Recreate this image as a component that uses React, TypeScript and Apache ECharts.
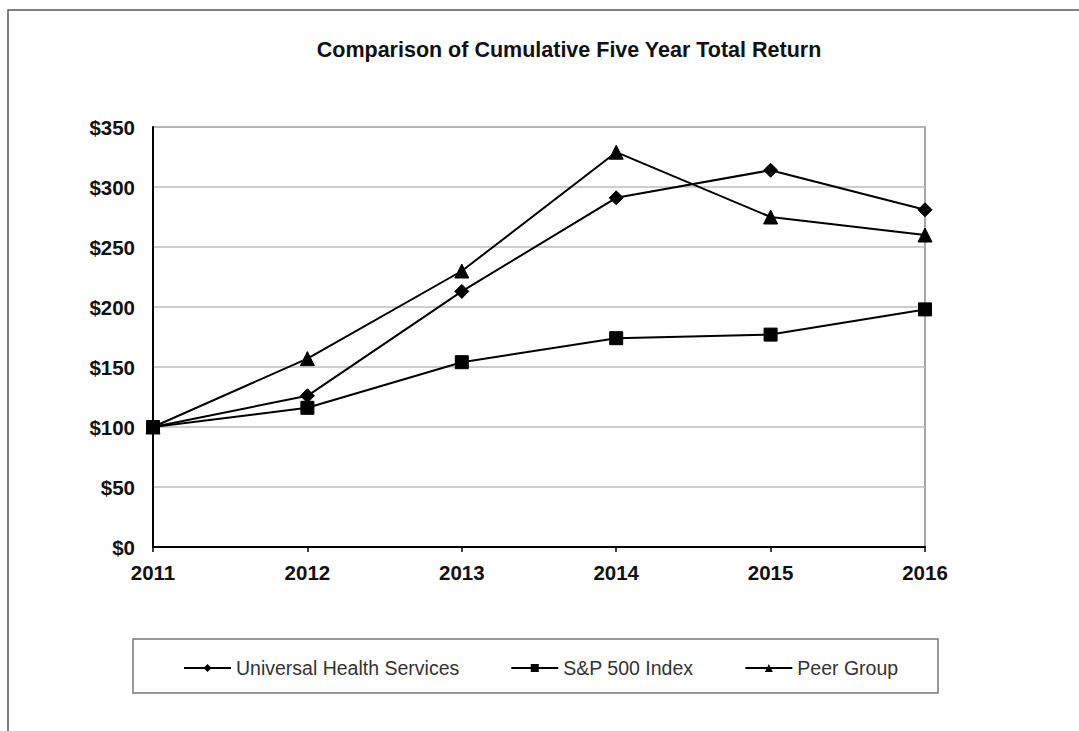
import React, { useEffect, useRef } from "react";
import * as echarts from "echarts";

const years = ["2011", "2012", "2013", "2014", "2015", "2016"];
const uhs = [100, 126, 213, 291, 314, 281];
const sp500 = [100, 116, 154, 174, 177, 198];
const peer = [100, 157, 230, 329, 275, 260];
const seriesNames = ["Universal Health Services", "S&P 500 Index", "Peer Group"];
const title = "Comparison of Cumulative Five Year Total Return";

const FONT = "'Liberation Sans', Arial, Helvetica, sans-serif";

export default function App() {
  const ref = useRef<HTMLDivElement>(null);
  useEffect(() => {
    if (!ref.current) return;
    const chart = echarts.init(ref.current, null, { renderer: "svg" });
    const mk = (name: string, data: number[], symbol: string, size: number) => ({
      name,
      type: "line",
      data,
      symbol,
      symbolSize: size,
      showSymbol: true,
      lineStyle: { color: "#000", width: 2 },
      itemStyle: { color: "#000", borderColor: "#000" },
      emphasis: { disabled: true },
    });
    chart.setOption({
      animation: false,
      backgroundColor: "#fff",
      title: {
        text: title,
        left: 564,
        textAlign: "center",
        top: 34,
        textStyle: { fontFamily: FONT, fontSize: 21.5, fontWeight: "bold", color: "#111" },
      },
      graphic: [
        {
          type: "rect",
          shape: { x: 8, y: 10, width: 1200, height: 900 },
          style: { fill: "none", stroke: "#555", lineWidth: 1.5 },
          silent: true,
        },
        {
          type: "rect",
          shape: { x: 133, y: 639, width: 805, height: 54 },
          style: { fill: "none", stroke: "#777", lineWidth: 1.5 },
          silent: true,
        },
      ],
      legend: {
        data: seriesNames,
        left: 178,
        top: 653,
        itemWidth: 47,
        itemHeight: 10,
        itemGap: 51,
        textStyle: { fontFamily: FONT, fontSize: 19.5, color: "#333" },
      },
      grid: {
        left: 153,
        right: 154,
        top: 127,
        bottom: 184,
        show: true,
        borderColor: "#888",
        borderWidth: 1.5,
        backgroundColor: "transparent",
      },
      xAxis: {
        type: "category",
        data: years,
        boundaryGap: false,
        axisLine: { lineStyle: { color: "#000", width: 2 } },
        axisTick: { show: true, length: 5, lineStyle: { color: "#000", width: 1.5 }, alignWithLabel: true },
        axisLabel: { fontFamily: FONT, fontSize: 20.5, fontWeight: "bold", color: "#111", margin: 15 },
        splitLine: { show: false },
      },
      yAxis: {
        type: "value",
        min: 0,
        max: 350,
        interval: 50,
        axisLine: { show: true, lineStyle: { color: "#000", width: 2 } },
        axisTick: { show: false },
        axisLabel: {
          fontFamily: FONT,
          fontSize: 20.5,
          fontWeight: "bold",
          color: "#111",
          margin: 18,
          formatter: (v: number) => "$" + v,
        },
        splitLine: { show: true, lineStyle: { color: "#bdbdbd", width: 1.5 } },
      },
      series: [
        mk(seriesNames[0], uhs, "diamond", 14),
        mk(seriesNames[1], sp500, "rect", 13),
        mk(seriesNames[2], peer, "triangle", 14),
      ],
    });
    return () => chart.dispose();
  }, []);
  return (
    <div
      ref={ref}
      style={{ position: "fixed", left: 0, top: 0, width: 1079, height: 731, background: "#fff" }}
    />
  );
}
